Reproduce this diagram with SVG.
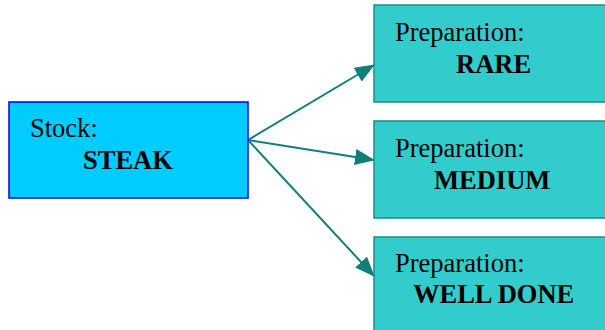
<svg xmlns="http://www.w3.org/2000/svg" width="605" height="330" viewBox="0 0 605 330">
  <style>
    .stock { fill: #00CCFF; stroke: #0000EE; stroke-width: 1.5; }
    .prep { fill: #33CCCC; stroke: #1A8C8C; stroke-width: 1.5; }
    .label { font-family: "Liberation Serif", "Times New Roman", serif; font-size: 26.5px; fill: #000; }
    .value { font-family: "Liberation Serif", "Times New Roman", serif; font-size: 26.5px; font-weight: bold; fill: #000; }
    .link { stroke: #0E7F7A; stroke-width: 2; fill: none; marker-end: url(#head); }
  </style>
  <defs>
    <marker id="head" viewBox="0 0 20 16" refX="19" refY="8" markerWidth="20" markerHeight="16" markerUnits="userSpaceOnUse" orient="auto">
      <path d="M0,0 L20,8 L0,16 Z" fill="#0E7F7A"/>
    </marker>
  </defs>
  <rect width="605" height="330" fill="#FFFFFF"/>

  <g id="connectors">
    <line class="link" x1="248" y1="140" x2="374" y2="65"/>
    <line class="link" x1="248" y1="140" x2="374" y2="160"/>
    <line class="link" x1="248" y1="140" x2="374" y2="276"/>
  </g>

  <g id="stock-steak">
    <rect class="stock" x="9" y="102" width="239" height="96"/>
    <text class="label" x="30" y="137">Stock:</text>
    <text class="value" x="83" y="169">STEAK</text>
  </g>

  <g id="prep-rare">
    <rect class="prep" x="374" y="5" width="240" height="97"/>
    <text class="label" x="395" y="41">Preparation:</text>
    <text class="value" x="456" y="73">RARE</text>
  </g>

  <g id="prep-medium">
    <rect class="prep" x="374" y="121" width="240" height="97"/>
    <text class="label" x="395" y="157">Preparation:</text>
    <text class="value" x="434" y="189">MEDIUM</text>
  </g>

  <g id="prep-well-done">
    <rect class="prep" x="374" y="237" width="240" height="100"/>
    <text class="label" x="395" y="272">Preparation:</text>
    <text class="value" x="413" y="303">WELL DONE</text>
  </g>
</svg>
